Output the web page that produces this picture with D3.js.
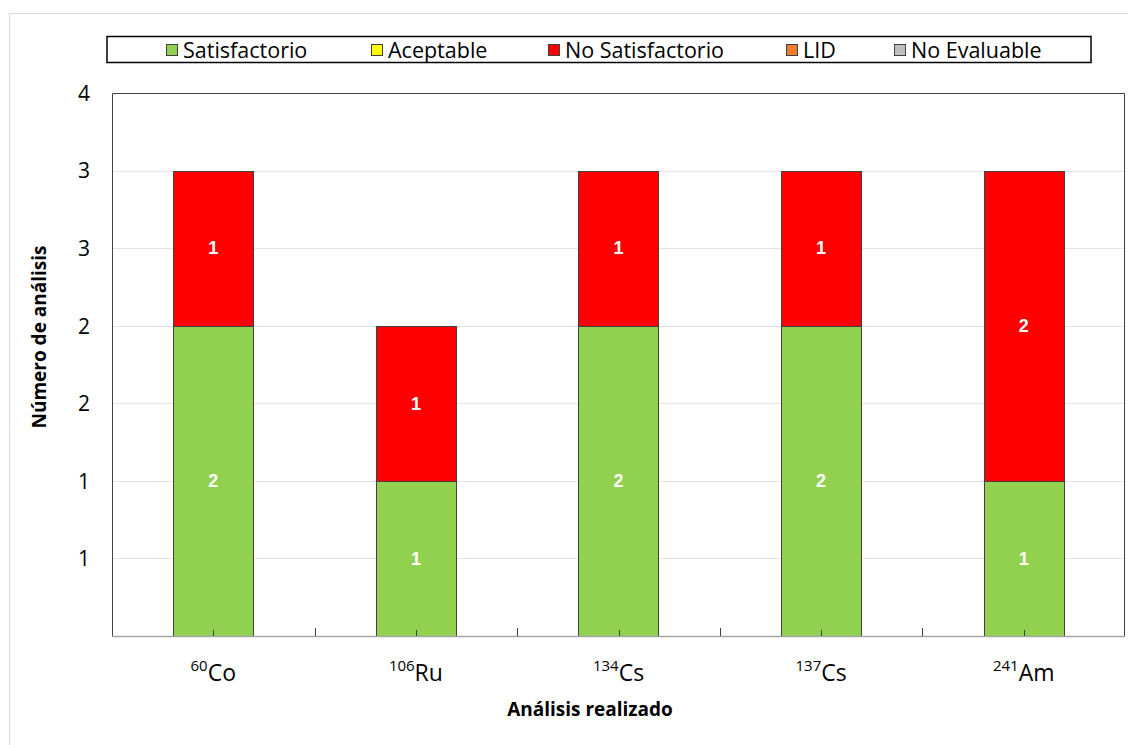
<!DOCTYPE html>
<html>
<head>
<meta charset="utf-8">
<style>
body { margin: 0; background: #fff; }
svg { font-family: "Open Sans", sans-serif; }
.grid line { stroke: #e3e3e3; stroke-width: 1; }
.ylab text { font-size: 21px; fill: #000; }
.seg-label { font-family: "Liberation Sans", Arial, sans-serif; font-weight: bold; font-size: 18px; fill: #fff; }
</style>
</head>
<body>
<svg width="1128" height="745"></svg>
<script src="https://cdn.jsdelivr.net/npm/d3@7"></script>
<script>

// data
var isotopes = [
  {mass: "60", sym: "Co"},
  {mass: "106", sym: "Ru"},
  {mass: "134", sym: "Cs"},
  {mass: "137", sym: "Cs"},
  {mass: "241", sym: "Am"}
];
var seriesNames = ["Satisfactorio", "Aceptable", "No Satisfactorio", "LID", "No Evaluable"];
var seriesColors = ["#92d050", "#ffff00", "#ff0000", "#ed7d31", "#bfbfbf"];
var satisfactorio = [2, 1, 2, 2, 1];
var aceptable = [0, 0, 0, 0, 0];
var noSatisfactorio = [1, 1, 1, 1, 2];
var lid = [0, 0, 0, 0, 0];
var noEvaluable = [0, 0, 0, 0, 0];
var yTickValues = [0.5, 1, 1.5, 2, 2.5, 3, 3.5];
var yTickLabels = ["1", "1", "2", "2", "3", "3", "4"];

var svg = d3.select("svg");
var plot = {left: 112, right: 1125, top: 93, bottom: 636};

// outer chart frame
svg.append("rect")
  .attr("x", 9.5).attr("y", 13.5)
  .attr("width", 1140).attr("height", 760)
  .attr("fill", "none").attr("stroke", "#d9d9d9");

var x = d3.scaleBand()
  .domain(d3.range(isotopes.length))
  .range([plot.left, plot.right])
  .paddingInner(0.605).paddingOuter(0.3025);

var xc = d3.scaleLinear().domain([0, isotopes.length]).range([plot.left, plot.right]);

var y = d3.scaleLinear().domain([0, 3.5]).range([plot.bottom, plot.top]);

// gridlines
svg.append("g").attr("class", "grid")
  .selectAll("line").data(yTickValues.slice(0, -1)).enter().append("line")
  .attr("x1", plot.left).attr("x2", plot.right)
  .attr("y1", function(d) { return Math.round(y(d)) + 0.5; })
  .attr("y2", function(d) { return Math.round(y(d)) + 0.5; });

// y axis labels
var yAxis = d3.axisLeft(y)
  .tickValues(yTickValues)
  .tickFormat(function(d, i) { return yTickLabels[i]; })
  .tickSize(0).tickPadding(22);
var gy = svg.append("g").attr("class", "ylab")
  .attr("transform", "translate(" + plot.left + ",0)")
  .call(yAxis);
gy.select(".domain").remove();
gy.selectAll("text").attr("font-family", "Open Sans").attr("dy", "0.35em");

// stacked bars
var stackData = isotopes.map(function(d, i) {
  return {i: i, s0: satisfactorio[i], s1: aceptable[i], s2: noSatisfactorio[i], s3: lid[i], s4: noEvaluable[i]};
});
var stack = d3.stack().keys(["s0", "s1", "s2", "s3", "s4"]);
var layers = stack(stackData);

var gl = svg.selectAll(".layer").data(layers).enter().append("g")
  .attr("class", "layer")
  .attr("fill", function(d, k) { return seriesColors[k]; });

gl.selectAll("rect")
  .data(function(d) { return d.filter(function(p) { return p[1] - p[0] > 0; }); })
  .enter().append("rect")
  .attr("x", function(p) { return Math.round(x(p.data.i)) + 0.5; })
  .attr("width", Math.round(x.bandwidth()))
  .attr("y", function(p) { return Math.round(y(p[1])) + 0.5; })
  .attr("height", function(p) { return Math.round(y(p[0])) - Math.round(y(p[1])); })
  .attr("stroke", "#404040").attr("stroke-width", 1);

gl.selectAll("text")
  .data(function(d) { return d.filter(function(p) { return p[1] - p[0] > 0; }); })
  .enter().append("text")
  .attr("class", "seg-label")
  .attr("text-anchor", "middle")
  .attr("x", function(p) { return x(p.data.i) + x.bandwidth() / 2; })
  .attr("y", function(p) { return y((p[0] + p[1]) / 2); })
  .attr("dy", "0.35em")
  .text(function(p) { return p[1] - p[0]; });

// plot frame
svg.append("path")
  .attr("d", "M" + (plot.left + 0.5) + "," + plot.bottom + "V" + (plot.top + 0.5) + "H" + (plot.right - 0.5) + "V" + plot.bottom)
  .attr("fill", "none").attr("stroke", "#404040");

// x axis line and ticks
svg.append("line")
  .attr("x1", plot.left).attr("x2", plot.right)
  .attr("y1", plot.bottom + 0.5).attr("y2", plot.bottom + 0.5)
  .attr("stroke", "#a6a6a6").attr("stroke-width", 1.5);

svg.append("g").selectAll("line").data(d3.range(1, isotopes.length)).enter().append("line")
  .attr("x1", function(d) { return Math.round(xc(d)) + 0.5; })
  .attr("x2", function(d) { return Math.round(xc(d)) + 0.5; })
  .attr("y1", plot.bottom - 8).attr("y2", plot.bottom)
  .attr("stroke", "#404040");

svg.append("g").selectAll("line").data(d3.range(isotopes.length)).enter().append("line")
  .attr("x1", function(d) { return Math.round(xc(d + 0.5)) + 0.5; })
  .attr("x2", function(d) { return Math.round(xc(d + 0.5)) + 0.5; })
  .attr("y1", plot.bottom - 6).attr("y2", plot.bottom)
  .attr("stroke", "#404040");

// x labels with superscript
var xl = svg.append("g").selectAll("text").data(isotopes).enter().append("text")
  .attr("text-anchor", "middle")
  .attr("x", function(d, i) { return xc(i + 0.5); })
  .attr("y", 681)
  .attr("font-size", "23px");
xl.append("tspan").attr("font-size", "15px").attr("dy", "-10").text(function(d) { return d.mass; });
xl.append("tspan").attr("dy", "10").text(function(d) { return d.sym; });

// axis titles
svg.append("text")
  .attr("x", 590).attr("y", 716)
  .attr("text-anchor", "middle")
  .attr("font-weight", "bold").attr("font-size", "19px")
  .text("Análisis realizado");

svg.append("text")
  .attr("transform", "translate(46,337) rotate(-90)")
  .attr("text-anchor", "middle")
  .attr("font-weight", "bold").attr("font-size", "19px")
  .text("Número de análisis");

// legend
svg.append("rect")
  .attr("x", 107).attr("y", 36.5).attr("width", 984).attr("height", 26)
  .attr("fill", "#fff").attr("stroke", "#000").attr("stroke-width", 1.5);

var legendX = [166, 371, 548, 786, 894];
var lg = svg.append("g").selectAll("g").data(seriesNames).enter().append("g")
  .attr("transform", function(d, i) { return "translate(" + legendX[i] + ",44)"; });
lg.append("rect")
  .attr("x", 0.5).attr("y", 0.5).attr("width", 11).attr("height", 11)
  .attr("fill", function(d, i) { return seriesColors[i]; })
  .attr("stroke", "#404040");
lg.append("text")
  .attr("x", 17).attr("y", 6).attr("dy", "0.36em")
  .attr("font-size", "21.5px")
  .text(function(d) { return d; });

</script>
</body>
</html>
